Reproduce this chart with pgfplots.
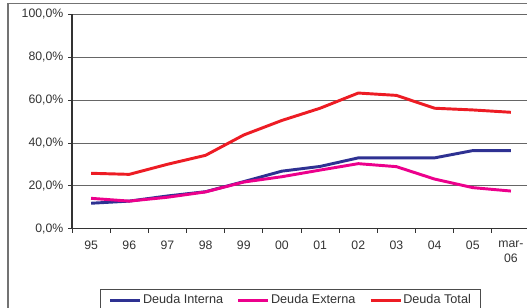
\documentclass[border=0pt]{standalone}
\usepackage{pgfplots}
\pgfplotsset{compat=1.18}
\usepackage{fontspec}
\setmainfont{Liberation Sans}
\definecolor{cInt}{HTML}{2E3192}
\definecolor{cExt}{HTML}{EC008C}
\definecolor{cTot}{HTML}{ED1C24}
\definecolor{txt}{HTML}{333333}
\begin{document}
\begin{tikzpicture}[x=0.75pt,y=0.75pt]
\draw[black!55, line width=0.9pt] (8,-30) rectangle (600,303.5);
\begin{axis}[
  at={(54pt,58.875pt)}, anchor=south west,
  scale only axis, width=343.5pt, height=160.5pt,
  xmin=-0.5, xmax=11.5, ymin=0, ymax=100,
  axis lines=left,
  axis line style={-, black!80, line width=0.8pt},
  xtick={-0.5,0.5,...,11.5},
  x tick label as interval,
  xticklabels={95,96,97,98,99,00,01,02,03,04,05,{mar-\\06}},
  ytick={0,20,40,60,80,100},
  yticklabels={{0,0\%},{20,0\%},{40,0\%},{60,0\%},{80,0\%},{100,0\%}},
  tick align=outside,
  major tick length=3pt,
  tick style={black!80, line width=0.6pt},
  ymajorgrids,
  major grid style={black!60, line width=0.6pt},
  ticklabel style={font=\fontsize{9.2}{11.25}\selectfont, text=txt},
  x tick label style={align=center, yshift=-2.5pt},
  legend style={at={(0.477,-0.2827)}, anchor=north, legend columns=3,
    draw=black!70, line width=0.6pt, font=\fontsize{9.5}{11}\selectfont, text=txt,
    inner xsep=6.5pt, inner ysep=2pt,
    /tikz/every even column/.append style={column sep=9.5pt},
    nodes={inner xsep=0.8pt}},
  legend image code/.code={\draw[#1] (0pt,0pt) -- (22.5pt,0pt);},
  every axis plot/.append style={line width=2.2pt, line join=round},
  clip=false,
]
\addplot[cInt] coordinates {(0,11.8) (1,12.8) (2,15.2) (3,17.2) (4,21.9) (5,26.8) (6,29.0) (7,33.0) (8,33.0) (9,33.0) (10,36.4) (11,36.4)};
\addplot[cExt] coordinates {(0,14.1) (1,12.8) (2,14.6) (3,17.1) (4,21.7) (5,24.2) (6,27.3) (7,30.3) (8,28.9) (9,23.1) (10,19.1) (11,17.5)};
\addplot[cTot] coordinates {(0,25.8) (1,25.3) (2,30.0) (3,34.2) (4,43.7) (5,50.5) (6,56.2) (7,63.3) (8,62.2) (9,56.2) (10,55.4) (11,54.3)};
\legend{Deuda Interna,Deuda Externa,Deuda Total}
\end{axis}
\pgfresetboundingbox
\path (0,0) rectangle (527,307);
\end{tikzpicture}
\end{document}
